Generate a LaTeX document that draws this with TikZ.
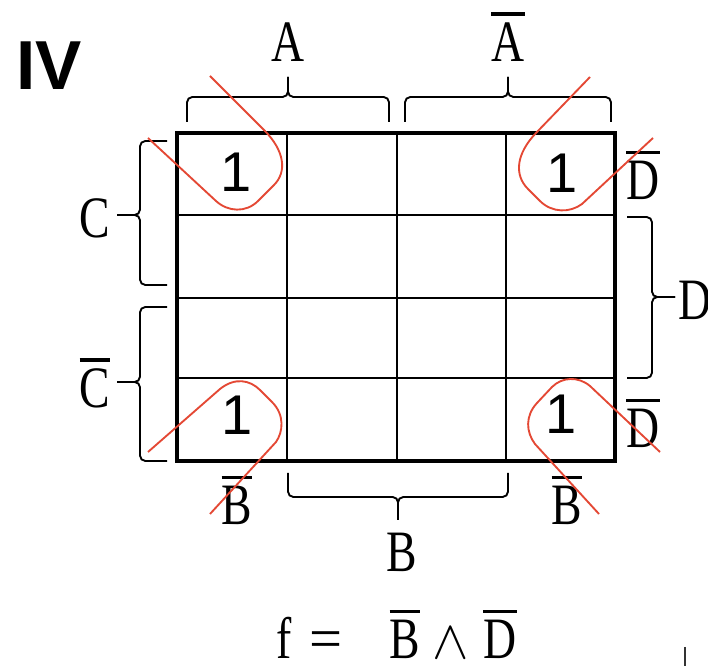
\documentclass[tikz,border=0pt]{standalone}
\usepackage{graphicx}
\usepackage{fontspec}
\setmainfont{Liberation Serif}
\newfontfamily\sansf{Liberation Sans}
\definecolor{loopred}{RGB}{228,72,52}
\newcommand\ob[1]{\setbox0=\hbox{#1}\rlap{\rule[\dimexpr\ht0+0.13em\relax]{\wd0}{0.055em}}\box0}
\begin{document}
\begin{tikzpicture}[x=0.75pt,y=-0.75pt,
  lbl/.style={inner sep=0,anchor=base,text depth=0pt,font=\fontsize{44}{50}\selectfont,xscale=0.78},
  one/.style={inner sep=0,font=\sansf\fontsize{42}{48}\selectfont},
  brace/.style={line width=1.4pt,rounded corners=4pt},
  inner/.style={line width=1.5pt},
  outer/.style={line width=3.4pt},
  loop/.style={draw=loopred,line width=1.4pt,line join=round}]
\useasboundingbox[fill=white] (0,0) rectangle (708,666);

% title
\node[inner sep=0,anchor=base,font=\sansf\bfseries\fontsize{52}{56}\selectfont] (title) at (49,90) {IV};

% grid
\foreach \x in {287,397,506} \draw[inner] (\x,133) -- (\x,461);
\foreach \y in {215,298,378} \draw[inner] (177,\y) -- (615,\y);
\draw[outer] (177,133) rectangle (615,461);

% ones
\node[one] (c11) at (236,172) {1};
\node[one] (c14) at (562,173) {1};
\node[one] (c41) at (237,415) {1};
\node[one] (c44) at (561,414) {1};

% top braces
\draw[brace] (187,122) -- (187,97) -- (288,97) -- (288,77);
\draw[brace] (389,122) -- (389,97) -- (288,97) -- (288,77);
\draw[brace] (405,122) -- (405,97) -- (508,97) -- (508,77);
\draw[brace] (611,122) -- (611,97) -- (508,97) -- (508,77);
\node[lbl] (lA) at (288,62) {A};
\node[lbl] (lAn) at (508,62) {\ob{A}};

% left braces
\draw[brace] (167,141) -- (140,141) -- (140,215) -- (117,215);
\draw[brace] (167,285) -- (140,285) -- (140,215) -- (117,215);
\draw[brace] (167,307) -- (140,307) -- (140,382) -- (117,382);
\draw[brace] (167,461) -- (140,461) -- (140,382) -- (117,382);
\node[lbl] (lC) at (95,238) {C};
\node[lbl] (lCn) at (95,408) {\ob{C}};

% right brace
\draw[brace] (627,217) -- (652,217) -- (652,297) -- (675,297);
\draw[brace] (627,378) -- (652,378) -- (652,297) -- (675,297);
\node[lbl] (lD) at (695,320) {D};
\node[lbl] (lDn1) at (643,200) {\ob{D}};
\node[lbl] (lDn2) at (643,448) {\ob{D}};

% bottom brace
\draw[brace] (288,473) -- (288,497) -- (398,497) -- (398,520);
\draw[brace] (508,473) -- (508,497) -- (398,497) -- (398,520);
\node[lbl] (lB) at (402,572) {B};
\node[lbl] (lBn1) at (237,525) {\ob{B}};
\node[lbl] (lBn2) at (567,525) {\ob{B}};

% formula
\node[lbl] (ff) at (284,659) {f};
\node[lbl,xscale=1.28] (feq) at (326,659) {=};
\node[lbl] (fB) at (405,659) {\ob{B}};
\node[lbl,xscale=1.28] (fand) at (451,659) {\scalebox{1.65}{$\wedge$}};
\node[lbl] (fD) at (500,659) {\ob{D}};
\draw[line width=1.2pt,black!80] (685,647) -- (685,666);

% red loops
\draw[loop] (210,76) -- (264,130) .. controls (285,151) and (287,172) .. (274,185)
  -- (258,201) .. controls (246,213) and (228,212) .. (216,201) -- (148,138);
\draw[loop] (590,77) -- (536,133) .. controls (516,154) and (514,175) .. (528,189)
  -- (540,201) .. controls (552,213) and (570,213) .. (582,204) -- (653,138);
\draw[loop] (148,452) -- (220,389) .. controls (235,377) and (250,380) .. (260,390)
  -- (272,402) .. controls (285,415) and (283,432) .. (276,442) -- (210,514);
\draw[loop] (660,452) -- (590,386) .. controls (578,376) and (562,377) .. (552,387)
  -- (537,403) .. controls (525,416) and (526,432) .. (535,444) -- (599,514);
\end{tikzpicture}
\end{document}
